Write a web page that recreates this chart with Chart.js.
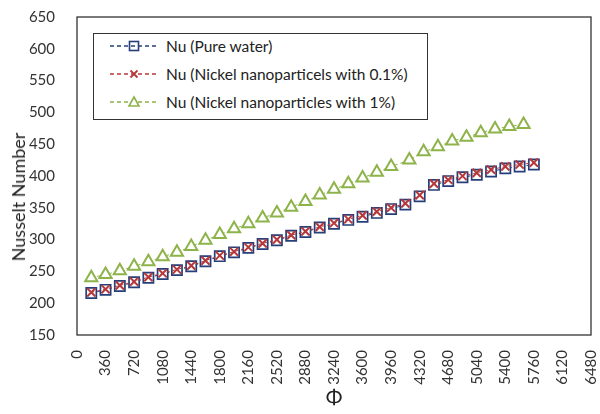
<!DOCTYPE html>
<html>
<head>
<meta charset="utf-8">
<script src="https://cdn.jsdelivr.net/npm/chart.js@4"></script>
<style>
  html, body { margin: 0; padding: 0; background: #fff; }
  #wrap { position: relative; width: 600px; height: 414px; }
  .legend { position: absolute; left: 93px; top: 33px; width: 333px; height: 85px;
            border: 1px solid #333; background: #fff;
            font-family: Lato, sans-serif; font-size: 15.5px; color: #222; }
  .legend .row { position: absolute; left: 16px; height: 20px; display: flex; align-items: center; white-space: nowrap; }
  .legend svg { margin-right: 8px; }
  .ytitle { position: absolute; left: 18px; top: 197px; transform: translate(-50%, -50%) rotate(-90deg);
            font-family: Lato, sans-serif; font-size: 18px; color: #222; white-space: nowrap; }
</style>
</head>
<body>
<div id="wrap">
  <canvas id="c" width="600" height="414"></canvas>
  <div class="legend" id="legend"></div>
  <div class="ytitle">Nusselt Number</div>
</div>
<script>
/* ---------- DATA ---------- */
const labels = ['Nu (Pure water)', 'Nu (Nickel nanoparticels with 0.1%)', 'Nu (Nickel nanoparticles with 1%)'];

const phiWater = [180, 360, 540, 720, 900, 1080, 1260, 1440, 1620, 1800, 1980, 2160, 2340, 2520, 2700, 2880,
  3060, 3240, 3420, 3600, 3780, 3960, 4140, 4320, 4500, 4680, 4860, 5040, 5220, 5400, 5580, 5760];
const nuWater = [216, 221, 227, 233, 240, 246, 252, 258, 266, 274, 280, 287, 293, 299, 306, 312,
  319, 325, 331, 336, 342, 348, 355, 368, 386, 392, 398, 402, 407, 412, 415, 418];

const phiNi01 = phiWater;
const nuNi01 = [217, 222, 228, 234, 241, 247, 253, 259, 267, 275, 281, 288, 294, 300, 307, 313,
  320, 326, 332, 338, 344, 350, 357, 370, 388, 394, 400, 405, 410, 415, 418, 421];

const phiNi1 = [180, 360, 540, 720, 900, 1080, 1260, 1440, 1620, 1800, 1980, 2160, 2340, 2520, 2700, 2880,
  3060, 3240, 3420, 3600, 3780, 3960, 4190, 4370, 4550, 4730, 4910, 5090, 5270, 5450, 5630];
const nuNi1 = [240, 245, 251, 258, 265, 273, 280, 289, 299, 308, 317, 325, 334, 342, 351, 360,
  370, 379, 388, 397, 406, 415, 425, 438, 446, 455, 461, 468, 474, 478, 481];

const xTicks = { min: 0, max: 6480, step: 360 };
const yTicks = { min: 150, max: 650, step: 50 };

const toPts = (xs, ys) => xs.map((x, i) => ({ x: x, y: ys[i] }));

/* ---------- STYLES ---------- */
const blue = '#243f7a', red = '#b5393b', green = '#8db34a';

const series = [
  { label: labels[0], data: toPts(phiWater, nuWater), color: blue, style: 'rect', radius: 7.2, fill: '#fff', bw: 1.7, order: 2 },
  { label: labels[1], data: toPts(phiNi01, nuNi01), color: red, style: 'crossRot', radius: 5.8, fill: red, bw: 2, order: 1 },
  { label: labels[2], data: toPts(phiNi1, nuNi1), color: green, style: 'triangle', radius: 7, fill: '#fff', bw: 2, order: 3 }
];

/* ---------- FRAME PLUGIN ---------- */
const frame = {
  id: 'frame',
  beforeDatasetsDraw(chart) {
    const { ctx, chartArea: a } = chart;
    ctx.save();
    ctx.strokeStyle = '#333';
    ctx.lineWidth = 1.3;
    ctx.strokeRect(a.left, a.top, a.right - a.left, a.bottom - a.top);
    ctx.restore();
  }
};

const tickFont = { family: 'Lato, sans-serif', size: 15 };

new Chart(document.getElementById('c'), {
  type: 'scatter',
  data: {
    datasets: series.map(s => ({
      label: s.label,
      data: s.data,
      showLine: true,
      borderColor: s.color,
      borderWidth: 1,
      borderDash: [3, 3],
      pointStyle: s.style,
      pointRadius: s.radius,
      pointBorderColor: s.color,
      pointBackgroundColor: s.fill,
      pointBorderWidth: s.bw,
      order: s.order
    }))
  },
  options: {
    responsive: false,
    animation: false,
    layout: { padding: { top: 17, right: 5, left: 0, bottom: 0 } },
    plugins: { legend: { display: false }, tooltip: { enabled: false } },
    scales: {
      x: {
        type: 'linear',
        min: xTicks.min, max: xTicks.max,
        grid: { display: false },
        border: { display: false },
        ticks: { stepSize: xTicks.step, autoSkip: false, minRotation: 90, maxRotation: 90,
                 padding: 7, color: '#333', font: tickFont, callback: v => String(v) },
        title: { display: true, text: 'Φ', color: '#222', font: { family: 'Lato, sans-serif', size: 20 },
                 padding: { top: 0, bottom: 4 } },
        afterFit: s => { s.height = 79; s.paddingLeft = 0; s.paddingRight = 0; }
      },
      y: {
        min: yTicks.min, max: yTicks.max,
        grid: { display: false },
        border: { display: false },
        ticks: { stepSize: yTicks.step, padding: 14, color: '#333', font: tickFont },
        afterFit: s => { s.width = 77; s.paddingTop = 0; s.paddingBottom = 0; }
      }
    }
  },
  plugins: [frame]
});

/* ---------- HTML LEGEND ---------- */
function symbol(s) {
  let m = '';
  if (s.style === 'rect') m = `<rect x="19.5" y="2.5" width="9" height="9" fill="none" stroke="${s.color}" stroke-width="1.6"/>`;
  if (s.style === 'crossRot') m = `<path d="M20.5 3.5 L27.5 10.5 M27.5 3.5 L20.5 10.5" stroke="${s.color}" stroke-width="1.8"/>`;
  if (s.style === 'triangle') m = `<path d="M24 2 L29 11 L19 11 Z" fill="#fff" stroke="${s.color}" stroke-width="1.6"/>`;
  return `<svg width="48" height="14"><line x1="0" y1="7" x2="48" y2="7" stroke="${s.color}" stroke-width="1.3" stroke-dasharray="4,3"/>${m}</svg>`;
}
const rowTops = [2, 30, 58];
document.getElementById('legend').innerHTML = series.map((s, i) =>
  `<div class="row" style="top:${rowTops[i]}px">${symbol(s)}<span>${s.label}</span></div>`).join('');
</script>
</body>
</html>
